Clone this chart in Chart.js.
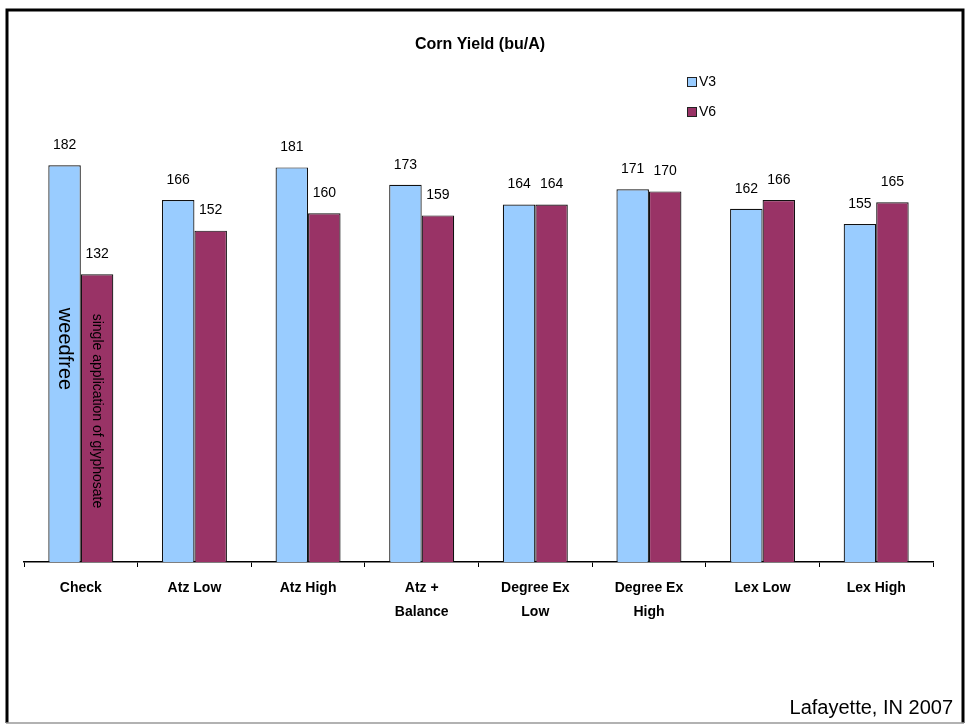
<!DOCTYPE html>
<html>
<head>
<meta charset="utf-8">
<script src="https://cdn.jsdelivr.net/npm/chart.js@4/dist/chart.umd.min.js"></script>
<style>
  html, body { margin: 0; padding: 0; background: #fff; }
  #wrap { position: relative; width: 966px; height: 725px; }
</style>
</head>
<body>
<div id="wrap"><canvas id="c" width="966" height="725"></canvas></div>
<script>
const categories = [["Check"], ["Atz Low"], ["Atz High"], ["Atz +", "Balance"], ["Degree Ex", "Low"], ["Degree Ex", "High"], ["Lex Low"], ["Lex High"]];
const seriesNames = ["V3", "V6"];
const v3Values = [182, 166, 181, 173, 164, 171, 162, 155];
const v6Values = [132, 152, 160, 159, 164, 170, 166, 165];
const yMin = 0;
const yMax = 200;
const titleText = "Corn Yield (bu/A)";
const footText = "Lafayette, IN 2007";
const noteV3 = "weedfree";
const noteV6 = "single application of glyphosate";

const FONT = "'Liberation Sans', Arial, sans-serif";
const colV3 = "#99CCFF";
const colV6 = "#993366";

const decorPlugin = {
  id: 'decor',
  beforeDraw(chart) {
    const ctx = chart.ctx;
    ctx.save();
    ctx.fillStyle = '#fff';
    ctx.fillRect(0, 0, chart.width, chart.height);
    ctx.restore();
  },
  afterDraw(chart) {
    const ctx = chart.ctx;
    ctx.save();
    // frame
    ctx.strokeStyle = '#000';
    ctx.lineWidth = 3;
    ctx.beginPath();
    ctx.moveTo(7, 723); ctx.lineTo(7, 10); ctx.lineTo(963, 10); ctx.lineTo(963, 723);
    ctx.stroke();
    ctx.strokeStyle = '#999';
    ctx.lineWidth = 1.5;
    ctx.beginPath();
    ctx.moveTo(6, 723); ctx.lineTo(964, 723);
    ctx.stroke();

    // title
    ctx.fillStyle = '#000';
    ctx.font = "bold 16px " + FONT;
    ctx.textAlign = 'center';
    ctx.textBaseline = 'middle';
    ctx.fillText(titleText, 480, 45);

    // legend
    const legCols = [colV3, colV6];
    const legY = [82, 112];
    ctx.font = "14px " + FONT;
    ctx.textAlign = 'left';
    for (let i = 0; i < seriesNames.length; i++) {
      ctx.fillStyle = legCols[i];
      ctx.fillRect(687.5, legY[i] - 4.5, 9, 9);
      ctx.strokeStyle = '#222';
      ctx.lineWidth = 1;
      ctx.strokeRect(687.5, legY[i] - 4.5, 9, 9);
      ctx.fillStyle = '#000';
      ctx.fillText(seriesNames[i], 699, legY[i]);
    }

    // value labels
    ctx.font = "14px " + FONT;
    ctx.textAlign = 'center';
    ctx.textBaseline = 'middle';
    chart.data.datasets.forEach((ds, di) => {
      const meta = chart.getDatasetMeta(di);
      meta.data.forEach((bar, i) => {
        ctx.fillStyle = '#000';
        ctx.fillText(String(ds.data[i]), bar.x, bar.y - 20);
      });
    });

    // rotated notes inside Check bars
    const b0 = chart.getDatasetMeta(0).data[0];
    const b1 = chart.getDatasetMeta(1).data[0];
    ctx.save();
    ctx.translate(b0.x, 349);
    ctx.rotate(Math.PI / 2);
    ctx.font = "20px " + FONT;
    ctx.fillStyle = '#000';
    ctx.fillText(noteV3, 0, 0);
    ctx.restore();
    ctx.save();
    ctx.translate(b1.x, 411);
    ctx.rotate(Math.PI / 2);
    ctx.font = "14px " + FONT;
    ctx.fillStyle = '#000';
    ctx.fillText(noteV6, 0, 0);
    ctx.restore();

    // footer
    ctx.font = "20px " + FONT;
    ctx.textAlign = 'right';
    ctx.textBaseline = 'middle';
    ctx.fillStyle = '#000';
    ctx.fillText(footText, 953, 708);
    ctx.restore();
  }
};

new Chart(document.getElementById('c'), {
  type: 'bar',
  data: {
    labels: categories,
    datasets: [
      { label: seriesNames[0], data: v3Values, backgroundColor: colV3, borderColor: '#111', borderWidth: 1.2 },
      { label: seriesNames[1], data: v6Values, backgroundColor: colV6, borderColor: '#111', borderWidth: 1.2 }
    ]
  },
  options: {
    responsive: false,
    animation: false,
    devicePixelRatio: 1,
    categoryPercentage: 0.572,
    barPercentage: 1.0,
    layout: { padding: { left: 24, right: 33, top: 126, bottom: 103 } },
    plugins: { legend: { display: false }, title: { display: false }, tooltip: { enabled: false } },
    scales: {
      x: {
        grid: { offset: true, drawOnChartArea: false, drawTicks: true, tickLength: 5, color: '#000', lineWidth: 1 },
        border: { display: true, color: '#000', width: 1.5 },
        ticks: { color: '#000', font: { family: FONT, size: 14, weight: 'bold', lineHeight: 1.65 }, padding: 10, maxRotation: 0, autoSkip: false },
        afterFit: (s) => { s.height = 60; }
      },
      y: {
        display: false,
        min: yMin,
        max: yMax
      }
    }
  },
  plugins: [decorPlugin]
});
</script>
</body>
</html>
